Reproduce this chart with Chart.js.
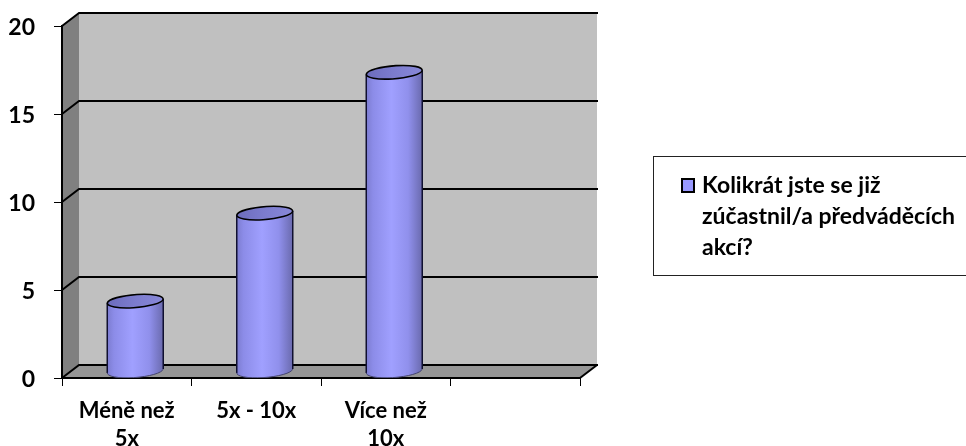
<!DOCTYPE html>
<html>
<head>
<meta charset="utf-8">
<style>html,body{margin:0;padding:0;background:#fff}#wrap{width:966px;height:446px}</style>
<script src="https://cdn.jsdelivr.net/npm/chart.js@4"></script>
</head>
<body>
<div id="wrap"><canvas id="chart" width="966" height="446"></canvas></div>
<script>
const categories = [['Méně než', '5x'], '5x - 10x', ['Více než', '10x'], ''];
const responses = [4, 9, 17, null];
const seriesLines = ['Kolikrát jste se již', 'zúčastnil/a předváděcích', 'akcí?'];

const FONT = 'Lato, Carlito, sans-serif';
const DEPTH_X = 17, DEPTH_Y = 13;

// Column shaped as a cylinder, standing halfway into the depth of the floor.
class CylinderElement extends Chart.BarElement {
  static id = 'cylinder';
  static defaults = Chart.BarElement.defaults;
  draw(ctx) {
    const {x, y, base, width} = this.getProps(['x', 'y', 'base', 'width']);
    const cx = x + DEPTH_X / 2, top = y - DEPTH_Y / 2, bottom = base - DEPTH_Y / 2;
    const rx = width / 2, ry = 6.5, tilt = -0.08;
    const shade = (stops) => {
      const g = ctx.createLinearGradient(cx - rx, 0, cx + rx, 0);
      stops.forEach(([p, c]) => g.addColorStop(p, c));
      return g;
    };
    ctx.save();
    ctx.beginPath();
    ctx.ellipse(cx, top, rx, ry, tilt, Math.PI - tilt, -tilt, true);
    ctx.ellipse(cx, bottom, rx, ry, tilt, -tilt, Math.PI - tilt, false);
    ctx.closePath();
    ctx.fillStyle = shade([[0, '#7c7cd0'], [0.12, '#8c8ce8'], [0.45, '#a0a0ff'], [0.75, '#9090ec'], [1, '#6a6aae']]);
    ctx.fill();

    // Side edges only: the foot of the column stays soft.
    ctx.strokeStyle = '#101030';
    ctx.lineWidth = 1.5;
    ctx.beginPath();
    ctx.moveTo(cx - rx, top + 2);
    ctx.lineTo(cx - rx, bottom + 2);
    ctx.moveTo(cx + rx, top - 2);
    ctx.lineTo(cx + rx, bottom - 2);
    ctx.stroke();
    ctx.strokeStyle = '#44446e';
    ctx.lineWidth = 1;
    ctx.beginPath();
    ctx.ellipse(cx, bottom, rx, ry, tilt, -tilt, Math.PI - tilt, false);
    ctx.stroke();

    // Cap
    ctx.beginPath();
    ctx.ellipse(cx, top, rx, ry, tilt, 0, Math.PI * 2);
    ctx.fillStyle = shade([[0, '#6c6cbc'], [0.5, '#7c7cce'], [1, '#8888d8']]);
    ctx.fill();
    ctx.strokeStyle = '#000';
    ctx.lineWidth = 1.6;
    ctx.beginPath();
    ctx.ellipse(cx, top, rx, ry, tilt, -tilt, Math.PI * 2 - tilt);
    ctx.stroke();
    ctx.restore();
  }
}

class CylinderController extends Chart.BarController {
  static id = 'cylinder';
  static defaults = {...Chart.BarController.defaults, dataElementType: 'cylinder'};
}

Chart.register(CylinderElement, CylinderController);

// Walls, floor and the receding gridlines of the 3D plot box.
const plotBox = {
  id: 'plotBox',
  beforeDraw(chart) {
    const {ctx, scales: {x, y}, chartArea: {left, right, top, bottom}} = chart;
    const poly = (pts, fill) => {
      ctx.beginPath();
      pts.forEach(([px, py], i) => i ? ctx.lineTo(px, py) : ctx.moveTo(px, py));
      ctx.closePath();
      ctx.fillStyle = fill;
      ctx.fill();
    };
    const dx = DEPTH_X, dy = DEPTH_Y;
    ctx.save();
    ctx.fillStyle = '#fff';
    ctx.fillRect(0, 0, chart.width, chart.height);
    poly([[left + dx, top - dy], [right + dx, top - dy], [right + dx, bottom - dy], [left + dx, bottom - dy]], '#c0c0c0');
    poly([[left, top], [left + dx, top - dy], [left + dx, bottom - dy], [left, bottom]], '#808080');
    poly([[left, bottom], [left + dx, bottom - dy], [right + dx, bottom - dy], [right, bottom]], '#969696');

    ctx.strokeStyle = '#000';
    ctx.lineWidth = 2;
    y.ticks.forEach(t => {
      const py = y.getPixelForValue(t.value);
      ctx.beginPath();
      ctx.moveTo(left, py);
      ctx.lineTo(left + dx, py - dy);
      ctx.lineTo(right + dx + 1, py - dy);
      ctx.stroke();
    });
    ctx.beginPath();
    ctx.moveTo(right, bottom);
    ctx.lineTo(right + dx, bottom - dy);
    ctx.stroke();
    ctx.restore();
  }
};

// Boxed legend, open towards the right edge, with a wrapped series name.
const wrappedLegend = {
  id: 'wrappedLegend',
  afterDraw(chart) {
    const {ctx} = chart;
    ctx.save();
    ctx.strokeStyle = '#222';
    ctx.lineWidth = 1;
    ctx.strokeRect(653.5, 156.5, 330, 119);
    ctx.fillStyle = '#9999ff';
    ctx.strokeStyle = '#000';
    ctx.lineWidth = 2;
    ctx.fillRect(682, 179, 12, 13);
    ctx.strokeRect(682, 179, 12, 13);
    ctx.fillStyle = '#000';
    ctx.font = 'bold 23px ' + FONT;
    ctx.textBaseline = 'middle';
    seriesLines.forEach((line, i) => ctx.fillText(line, 702, 186 + i * 31));
    ctx.restore();
  }
};

new Chart(document.getElementById('chart'), {
  type: 'cylinder',
  data: {
    labels: categories,
    datasets: [{
      label: seriesLines.join(' '),
      data: responses,
      backgroundColor: '#9999ff',
      barThickness: 56
    }]
  },
  options: {
    responsive: false,
    animation: false,
    layout: {autoPadding: false, padding: {top: 26, right: 386, left: 0, bottom: 0}},
    plugins: {legend: {display: false}, tooltip: {enabled: false}},
    scales: {
      x: {
        type: 'category',
        offset: true,
        afterFit(s) { s.height = 68; s.paddingLeft = 0; s.paddingRight = 0; },
        border: {color: '#000', width: 2},
        grid: {offset: true, drawOnChartArea: false, tickLength: 8, color: '#000', lineWidth: 1},
        ticks: {
          color: '#000', padding: 11, maxRotation: 0, autoSkip: false,
          font: {family: FONT, weight: 'bold', size: 22, lineHeight: 1.27}
        }
      },
      y: {
        min: 0, max: 20,
        afterFit(s) { s.width = 62; s.paddingTop = 0; s.paddingBottom = 0; },
        border: {color: '#000', width: 2},
        grid: {drawOnChartArea: false, tickLength: 8, color: '#000', lineWidth: 1},
        ticks: {
          stepSize: 5, color: '#000', padding: 19, labelOffset: 2,
          font: {family: FONT, weight: 'bold', size: 23}
        }
      }
    }
  },
  plugins: [plotBox, wrappedLegend]
});
</script>
</body>
</html>
